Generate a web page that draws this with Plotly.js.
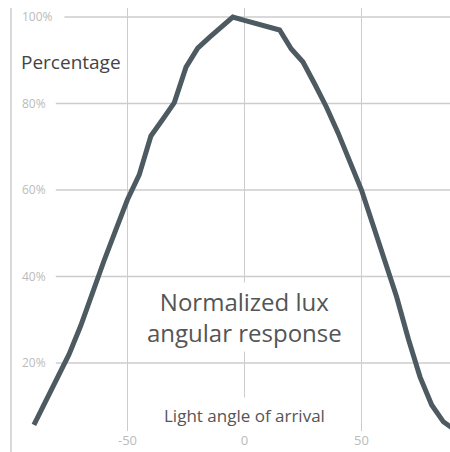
<!DOCTYPE html>
<html>
<head>
<meta charset="utf-8">
<script src="https://cdn.plot.ly/plotly-3.0.1.min.js"></script>
<style>html,body{margin:0;padding:0;background:#fff;}#chart{width:450px;height:452px;}</style>
</head>
<body>
<div id="chart"></div>
<script>
// Light angle of arrival (degrees)
var angles = [-90,-85,-80,-75,-70,-65,-60,-55,-50,-45,-40,-35,-30,-25,-20,-15,-10,-5,0,5,10,15,20,25,30,35,40,45,50,55,60,65,70,75,80,85,90];
// Normalized lux response (%)
var response = [5.7,11.2,16.5,22.0,28.6,36.5,43.7,50.8,57.8,63.5,72.5,76.3,80.2,88.4,92.8,95.3,97.6,100,99.2,98.5,97.8,97.0,92.6,89.6,84.5,79.2,73.2,66.9,60.0,51.8,43.6,35.3,25.6,16.8,10.3,6.4,4.5];
var yTickVals = [20,40,60,80,100];
var yTickText = ['20%','40%','60%','80%','100%'];
var xTickVals = [-50,0,50];
var xTickText = ['-50','0','50'];
var titleText = 'Normalized lux<br>angular response';
var xTitleText = 'Light angle of arrival';
var yTitleText = 'Percentage';

var W = 450, L = 11, R = 0;
var plotW = W - L - R;
// horizontal gridlines start just right of their tick labels
var shapes = yTickVals.map(function(v, i){
  var startPx = 21 + 8.6 * yTickText[i].length + 9;
  return {type:'line', layer:'below', xref:'paper', yref:'y',
    x0:(startPx - L)/plotW, x1:1, y0:v, y1:v,
    line:{color:'#cccccc', width:1.5}};
});
shapes.push({type:'line', layer:'below', xref:'paper', yref:'paper',
  x0:0, x1:0, y0:-0.06, y1:1, line:{color:'#cccccc', width:1.5}});

var trace = {
  x: angles, y: response, type:'scatter', mode:'lines',
  line:{color:'#4d5a62', width:5}, hoverinfo:'skip', cliponaxis:true
};

var layout = {
  width:450, height:452,
  margin:{l:L, r:R, t:8, b:21, pad:0},
  paper_bgcolor:'#ffffff', plot_bgcolor:'#ffffff',
  font:{family:'"Open Sans", sans-serif', color:'#555555'},
  showlegend:false,
  xaxis:{range:[-99.79, 87.82], tickvals:xTickVals, ticktext:xTickText,
    showgrid:true, gridcolor:'#cccccc', gridwidth:1.5, zeroline:false,
    showline:false, ticks:'', tickfont:{size:13, color:'#bbbbbb'}, fixedrange:true},
  yaxis:{range:[4.28, 102.08], tickvals:yTickVals, ticktext:yTickText,
    showgrid:false, zeroline:false, showline:false, ticks:'',
    ticklabelposition:'inside', ticklabelstandoff:8,
    tickfont:{size:12, color:'#bbbbbb'}, fixedrange:true},
  shapes: shapes,
  annotations:[
    {text:yTitleText, xref:'paper', yref:'paper', x:(19-L)/plotW, y:(431-62)/423,
     xanchor:'left', yanchor:'middle', showarrow:false,
     font:{size:19, color:'#444444'}},
    {text:titleText, xref:'x', yref:'paper', x:0, y:(431-317)/423,
     xanchor:'center', yanchor:'middle', showarrow:false, align:'center',
     bgcolor:'#ffffff', borderpad:2,
     font:{size:24, color:'#555555'}},
    {text:xTitleText, xref:'x', yref:'paper', x:0, y:(431-415)/423,
     xanchor:'center', yanchor:'middle', showarrow:false,
     bgcolor:'#ffffff', borderpad:6,
     font:{size:17, color:'#555555'}}
  ]
};

Plotly.newPlot('chart', [trace], layout, {displayModeBar:false, staticPlot:true});
</script>
</body>
</html>
